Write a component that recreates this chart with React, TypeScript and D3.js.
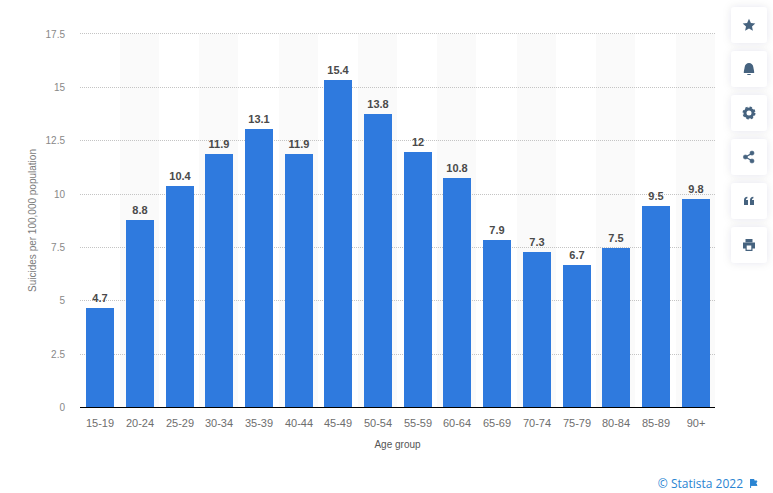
import React from "react";
import * as d3 from "d3";

const categories = ["15-19","20-24","25-29","30-34","35-39","40-44","45-49","50-54","55-59","60-64","65-69","70-74","75-79","80-84","85-89","90+"];
const values = [4.7,8.8,10.4,11.9,13.1,11.9,15.4,13.8,12,10.8,7.9,7.3,6.7,7.5,9.5,9.8];
const valueLabels = ["4.7","8.8","10.4","11.9","13.1","11.9","15.4","13.8","12","10.8","7.9","7.3","6.7","7.5","9.5","9.8"];
const yTicks = [0,2.5,5,7.5,10,12.5,15,17.5];
const yTitle = "Suicides per 100,000 population";
const xTitle = "Age group";
const credit = "© Statista 2022";

const F = "'Liberation Sans', Arial, sans-serif";
const iconColor = "#46637f";

const icons: React.ReactNode[] = [
  <path d="M0 -6.2 L1.9 -2.1 L6.3 -1.6 L3 1.4 L3.9 5.8 L0 3.6 L-3.9 5.8 L-3 1.4 L-6.3 -1.6 L-1.9 -2.1 Z" fill={iconColor} />,
  <g fill={iconColor}><path d="M-5.2 4 C-5.2 1.5 -4.6 0.5 -4.4 -1.5 C-4.1 -4.4 -2.3 -6 0 -6 C2.3 -6 4.1 -4.4 4.4 -1.5 C4.6 0.5 5.2 1.5 5.2 4 Z" /><rect x={-1.8} y={5} width={3.6} height={1.1} rx={0.5} /></g>,
  <g><circle r={4} fill="none" stroke={iconColor} strokeWidth={3} /><circle r={5.7} fill="none" stroke={iconColor} strokeWidth={1.6} strokeDasharray="2.4 2.07" /></g>,
  <g fill={iconColor} stroke={iconColor}><line x1={-3.6} y1={0} x2={3} y2={-3.6} strokeWidth={1.2} /><line x1={-3.6} y1={0} x2={3} y2={3.8} strokeWidth={1.2} /><circle cx={-3.6} cy={0} r={2.1} strokeWidth={0.5} /><circle cx={3} cy={-3.9} r={2.1} strokeWidth={0.5} /><circle cx={3} cy={4} r={2.1} strokeWidth={0.5} /></g>,
  <g fill={iconColor}><path d="M-5 4 V-0.8 C-5 -3 -3.9 -4 -1.6 -4.2 V-2.7 C-2.6 -2.5 -3 -2 -3 -1 H-1 V4 Z" /><path d="M1 4 V-0.8 C1 -3 2.1 -4 4.4 -4.2 V-2.7 C3.4 -2.5 3 -2 3 -1 H5 V4 Z" /></g>,
  <g fill={iconColor}><path d="M-3.5 -2.6 V-6 H3.5 V-2.6 Z" /><path fillRule="evenodd" d="M-6 -2.6 H6 V3.4 H3.5 V6 H-3.5 V3.4 H-6 Z M-2.3 0.6 V4.8 H2.3 V0.6 Z" /></g>,
];

export default function App() {
  const band = d3.scaleBand<string>().domain(categories).range([80, 715.2]);
  const barW = 28;
  const barX = (c: string) => Math.round(band(c)! + 6.12);
  const y = d3.scaleLinear().domain([0, 17.5]).range([408, 35]);
  const yGrid = d3.scaleLinear().domain([0, 17.5]).range([407.6, 33.9]);
  const gridY = (t: number) => Math.floor(yGrid(t)) + 0.5;
  const btnY = [7, 51, 95, 139, 183, 227];
  return (
    <svg width={773} height={493} style={{ position: "absolute", left: 0, top: 0, background: "#fff" }}>
      <defs>
        <filter id="sh" x="-40%" y="-40%" width="180%" height="180%">
          <feDropShadow dx={0} dy={0} stdDeviation={4} floodColor="#334" floodOpacity={0.1} />
        </filter>
      </defs>
      {categories.map((c, i) => i % 2 === 1 ? (
        <rect key={c} x={Math.round(band(c)!)} y={34} width={39} height={373} fill="#fafafa" />
      ) : null)}
      {yTicks.filter(t => t > 0).map(t => (
        <line key={t} x1={80} x2={715} y1={gridY(t)} y2={gridY(t)} stroke="#c4c4c4" strokeWidth={1} strokeDasharray="1 1" />
      ))}
      {yTicks.map(t => (
        <text key={t} x={65} y={Math.round(yGrid(t) + 3.6)} textAnchor="end" fontFamily={F} fontSize={10} fill="#888">{t}</text>
      ))}
      {categories.map((c, i) => (
        <g key={c}>
          <rect x={barX(c)} y={Math.round(y(values[i]))} width={barW} height={407 - Math.round(y(values[i]))} fill="#2f7ade" />
          <text x={barX(c) + barW / 2} y={Math.round(y(values[i])) - 6} textAnchor="middle" fontFamily={F} fontSize={11} fontWeight="bold" fill="#4a4a4a">{valueLabels[i]}</text>
          <text x={barX(c) + barW / 2} y={427} textAnchor="middle" fontFamily={F} fontSize={11} fill="#6e6e6e">{c}</text>
        </g>
      ))}
      <line x1={80} x2={715} y1={407.5} y2={407.5} stroke="#000" strokeWidth={1} />
      <text transform="translate(35.5,220.5) rotate(-90)" textAnchor="middle" fontFamily={F} fontSize={10} fill="#7a7a7a">{yTitle}</text>
      <text x={397.5} y={448} textAnchor="middle" fontFamily={F} fontSize={10} fill="#555">{xTitle}</text>
      {btnY.map((b, i) => (
        <g key={b}>
          <rect x={731} y={b} width={36} height={36} rx={4} fill="#fff" filter="url(#sh)" />
          <g transform={`translate(749,${b + 18})`}>{icons[i]}</g>
        </g>
      ))}
      <text x={743} y={488} textAnchor="end" fontFamily="'Open Sans', sans-serif" fontSize={12} fill="#2a84d2">{credit}</text>
      <path d="M750.6 479 V488 M750.6 479.5 H754 V481 H757 L755.8 483.2 L757 485.4 H750.6 Z" fill="#2a84d2" stroke="#2a84d2" strokeWidth={1} />
    </svg>
  );
}
